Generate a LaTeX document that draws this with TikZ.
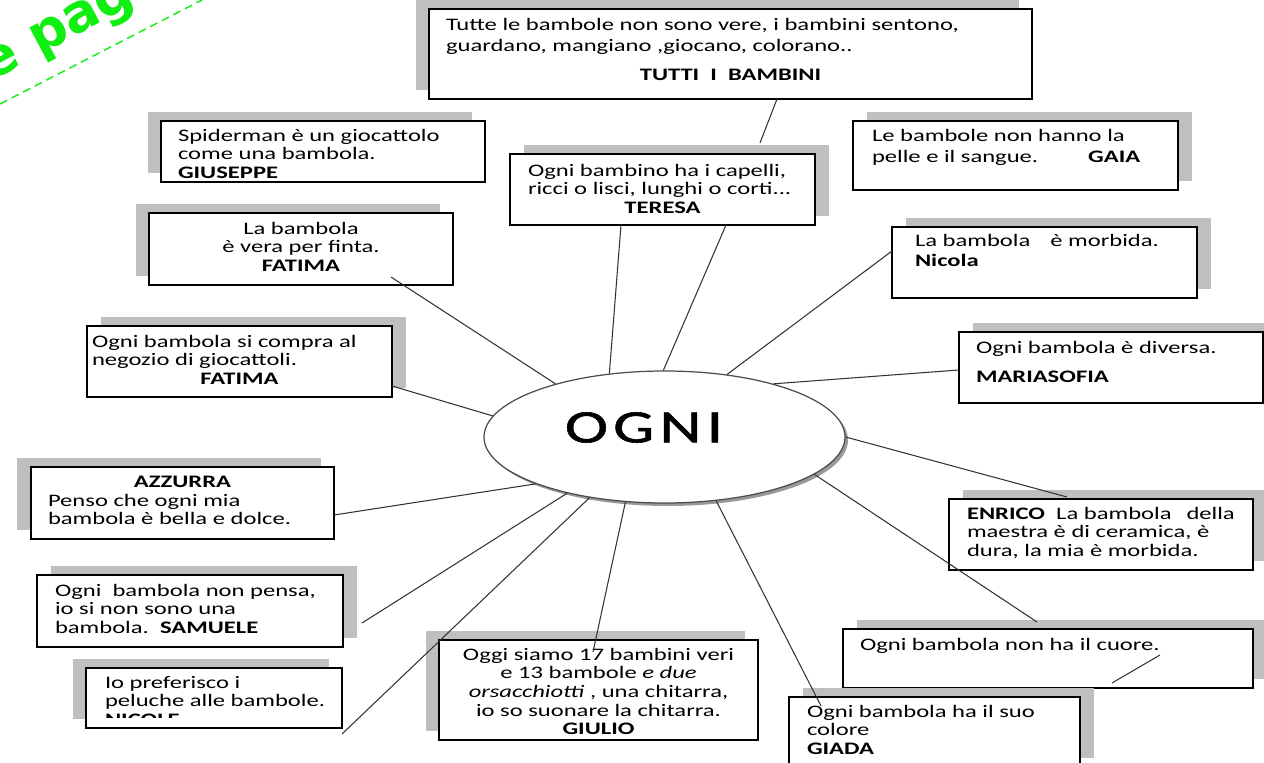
\documentclass[tikz,border=0pt]{standalone}
\usepackage{fontspec}
\setmainfont[FakeStretch=1.40]{Carlito}
\newfontfamily\ognifont[FakeStretch=1.40,FakeBold=1.2,LetterSpace=11]{Carlito}
\newfontfamily\stampfont{DejaVu Sans}
\usetikzlibrary{shapes.geometric,shadows}
\definecolor{shadowgray}{HTML}{BFBFBF}
\definecolor{stampgreen}{HTML}{11EE11}
\newdimen\px \px=0.2mm
\newcommand{\cardtext}[4]{\parbox[c][#2\px][t]{#1\px}{\vspace*{#3\px}\rightskip=-40pt plus 1fil\relax #4}}

\begin{document}
\begin{tikzpicture}[x=0.2mm,y=-0.2mm,font=\fontsize{10}{10.6}\selectfont,
 card/.style={draw=black,line width=.9pt,fill=white,inner sep=0pt,outer sep=0pt,anchor=north west},
 cardleft/.style={card,general shadow={fill=shadowgray,shadow xshift=-2.7mm,shadow yshift=1.8mm}},
 cardright/.style={card,general shadow={fill=shadowgray,shadow xshift=2.7mm,shadow yshift=1.8mm}},
 spoke/.style={draw=black!80,line width=.6pt}]
\clip (0,0) rectangle (1264,763);
% stamp in the corner
\draw[stampgreen,line width=.8pt,dash pattern=on 8\px off 5\px] (0,104) -- (202,0);
\node[stampgreen,font=\stampfont\bfseries\fontsize{30}{36}\selectfont,rotate=28,anchor=base west] (stamp) at (-14,84) {e pag};
% the cards
\node[cardleft] (tutti) at (429,9) {\cardtext{603}{90}{9}{\fontsize{10}{12}\selectfont\leftskip=17\px
 Tutte le bambole non sono vere, i bambini sentono,\\
 guardano, mangiano ,giocano, colorano..\par\vspace{8\px}
 {\centering\textbf{TUTTI\ \ I\ \ BAMBINI}\par}}};
\node[cardleft] (spider) at (161,121) {\cardtext{324}{61}{8}{\leftskip=17\px
 Spiderman è un giocattolo\\ come una bambola.\\ \textbf{GIUSEPPE}}};
\node[cardright] (teresa) at (510,154) {\cardtext{305}{71}{10}{\leftskip=18\px
 Ogni bambino ha i capelli,\\ ricci o lisci, lunghi o corti...\par
 {\centering\textbf{TERESA}\par}}};
\node[cardright] (gaia) at (853,121) {\cardtext{325}{69}{8}{\fontsize{10}{12}\selectfont\leftskip=19\px
 Le bambole non hanno la\\ pelle e il sangue.\hspace{50\px}\textbf{GAIA}}};
\node[cardright] (nicola) at (892,227) {\cardtext{305}{71}{7}{\fontsize{10}{11.5}\selectfont\leftskip=23\px
 La bambola\hspace{20\px}è morbida.\\ \textbf{Nicola}}};
\node[cardleft] (fatimaa) at (149,213) {\cardtext{304}{72}{9}{\centering
 La bambola\\ è vera per finta.\\ \textbf{FATIMA}\par}};
\node[cardright] (fatimab) at (87,326) {\cardtext{305}{71}{9}{\leftskip=5\px
 Ogni bambola si compra al\\ negozio di giocattoli.\par
 {\centering\textbf{FATIMA}\par}}};
\node[cardright] (maria) at (959,332) {\cardtext{304}{71}{9}{\leftskip=17\px
 Ogni bambola è diversa.\\[11\px] \textbf{MARIASOFIA}}};
\node[cardleft] (azzurra) at (31,467) {\cardtext{303}{72}{9}{{\centering\textbf{AZZURRA}\par}
 \leftskip=17\px Penso che ogni mia\\ bambola è bella e dolce.}};
\node[cardright] (samuele) at (37,575) {\cardtext{306}{72}{9}{\leftskip=18\px
 Ogni\ \ bambola non pensa,\\ io si non sono una\\ bambola.\ \ \textbf{SAMUELE}}};
\node[cardleft] (nicole) at (86,668) {\cardtext{256}{60}{8}{\leftskip=19\px
 Io preferisco i\\ peluche alle bambole.\\ \textbf{NICOLE}}};
\fill[white] (88,718) rectangle (340,726.5);
\node[cardleft] (giulio) at (439,640) {\cardtext{319}{100}{8}{\centering
 Oggi siamo 17 bambini veri\\ e 13 bambole \textit{e due}\\ \textit{orsacchiotti} , una chitarra,\\ io so suonare la chitarra.\\ \textbf{GIULIO}\par}};
\node[cardright] (enrico) at (949,499) {\cardtext{304}{71}{8}{\leftskip=18\px
 \textbf{ENRICO}\ \ La bambola\hspace{15\px}della\\ maestra è di ceramica, è\\ dura, la mia è morbida.}};
\node[cardright] (cuore) at (843,629) {\cardtext{410}{59}{9}{\leftskip=17\px Ogni bambola non ha il cuore.}};
\node[cardright] (giada) at (789,697) {\cardtext{291}{70}{8}{\leftskip=18\px
 Ogni bambola ha il suo\\ colore\\ \textbf{GIADA}}};
% the centre
\node[ellipse,draw=black!70,line width=.7pt,fill=white,minimum width=72.2mm,minimum height=26.4mm,inner sep=0pt,
 general shadow={fill=black!40,shadow xshift=.6mm,shadow yshift=-.6mm}] (ogni) at (664.5,437) {};
\node[font=\ognifont\fontsize{26.5}{30}\selectfont] (ogniword) at (644,427.5) {OGNI};
% loose ends of the spokes
\coordinate (tuttifoot) at (777,99);
\coordinate (teresahead) at (760,143);
\coordinate (teresafootA) at (621,225);
\coordinate (teresafootB) at (726,225);
\coordinate (fatimaafoot) at (391,277);
\coordinate (fatimabside) at (392,386);
\coordinate (nicolaside) at (892,251);
\coordinate (mariaside) at (959,370);
\coordinate (enricohead) at (1067,497);
\coordinate (cuorehead) at (1037,622);
\coordinate (cuorenickA) at (1112,683);
\coordinate (cuorenickB) at (1160,655);
\coordinate (giadatip) at (821,706);
\coordinate (giuliotip) at (593,652);
\coordinate (nicoletip) at (342,734);
\coordinate (samueletip) at (362,623);
\coordinate (azzurraside) at (334,515);
\draw[spoke] (tuttifoot) -- (teresahead);
\draw[spoke] (teresafootA) -- (ogni.131);
\draw[spoke] (teresafootB) -- (ogni.91);
\draw[spoke] (fatimaafoot) -- (ogni.154);
\draw[spoke] (fatimabside) -- (ogni.173);
\draw[spoke] (nicolaside) -- (ogni.45);
\draw[spoke] (mariaside) -- (ogni.26);
\draw[spoke] (ogni.0) -- (enricohead);
\draw[spoke] (ogni.-14) -- (cuorehead);
\draw[spoke] (cuorenickA) -- (cuorenickB);
\draw[spoke] (ogni.-51) -- (giadatip);
\draw[spoke] (ogni.-121) -- (giuliotip);
\draw[spoke] (ogni.-141) -- (nicoletip);
\draw[spoke] (ogni.-150) -- (samueletip);
\draw[spoke] (azzurraside) -- (ogni.-160);
\end{tikzpicture}
\end{document}
